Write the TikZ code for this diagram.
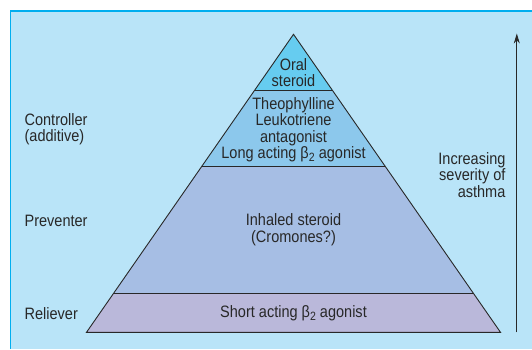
\documentclass[tikz,border=0pt]{standalone}
\usepackage{fontspec}
\setmainfont{Liberation Sans}[FakeStretch=0.88]
\usepackage{xcolor}
\usepackage{tikz}
\usetikzlibrary{arrows.meta,calc}
\definecolor{bgblue}{RGB}{185,228,248}
\definecolor{rimblue}{RGB}{0,174,239}
\definecolor{tipblue}{RGB}{102,204,240}
\definecolor{midblue}{RGB}{140,200,236}
\definecolor{wideblue}{RGB}{166,190,228}
\definecolor{lilac}{RGB}{186,184,218}
\definecolor{ink}{RGB}{40,40,40}
\newcommand{\betatwo}{β\raisebox{-0.35ex}{\fontsize{12}{12}\selectfont 2}}

\begin{document}
\begin{tikzpicture}[
  x=1pt, y=-1pt,
  txt/.style={text=ink, font=\fontsize{16.5}{16.3}\selectfont, inner sep=0pt, align=center},
  tier/.style={draw=ink, line width=0.9pt, line join=miter},
  arrow/.style={-{Stealth[length=10pt,width=6pt]}, line width=1pt, draw=ink}
]
\useasboundingbox (0,0) rectangle (532,349);
\fill[white] (0,0) rectangle (532,349);
\fill[bgblue] (10.2,11) rectangle (532,349);
\draw[rimblue, line width=1.2pt] (10.2,349) -- (10.2,11) -- (532,11);

% pyramid corners and tier edges
\coordinate (apex) at (293.5,34.3);
\coordinate (bl) at (86.5,332.3);
\coordinate (br) at (500.5,332.3);
\coordinate (l1) at ($(apex)!0.190!(bl)$);
\coordinate (r1) at ($(apex)!0.190!(br)$);
\coordinate (l2) at ($(apex)!0.442!(bl)$);
\coordinate (r2) at ($(apex)!0.442!(br)$);
\coordinate (l3) at ($(apex)!0.869!(bl)$);
\coordinate (r3) at ($(apex)!0.869!(br)$);

\fill[tipblue] (apex) -- (r1) -- (l1) -- cycle;
\fill[midblue] (l1) -- (r1) -- (r2) -- (l2) -- cycle;
\fill[wideblue] (l2) -- (r2) -- (r3) -- (l3) -- cycle;
\fill[lilac] (l3) -- (r3) -- (br) -- (bl) -- cycle;
\draw[tier] (l1) -- (r1);
\draw[tier] (l2) -- (r2);
\draw[tier] (l3) -- (r3);
\draw[tier] (apex) -- (br) -- (bl) -- cycle;

% tier texts
\node[txt] (oral) at (293.5,72.5) {Oral\\steroid};
\node[txt] (theo) at (293.5,129.8) {Theophylline\\Leukotriene\\antagonist\\Long acting \betatwo{} agonist};
\node[txt] (inhaled) at (293.5,229.7) {Inhaled steroid\\(Cromones?)};
\node[txt] (short) at (293.5,313.3) {Short acting \betatwo{} agonist};

% side labels
\node[txt, anchor=west, align=left] (controller) at (24.4,129.2) {Controller\\(additive)};
\node[txt, anchor=west] (preventer) at (24.4,221) {Preventer};
\node[txt, anchor=west] (reliever) at (24.4,314) {Reliever};
\node[txt, anchor=east, align=right] (severity) at (505.6,175) {Increasing\\severity of\\asthma};

\coordinate (low) at (516.8,332.3);
\coordinate (high) at (516.8,33.5);
\draw[arrow] (low) -- (high);
\end{tikzpicture}
\end{document}
